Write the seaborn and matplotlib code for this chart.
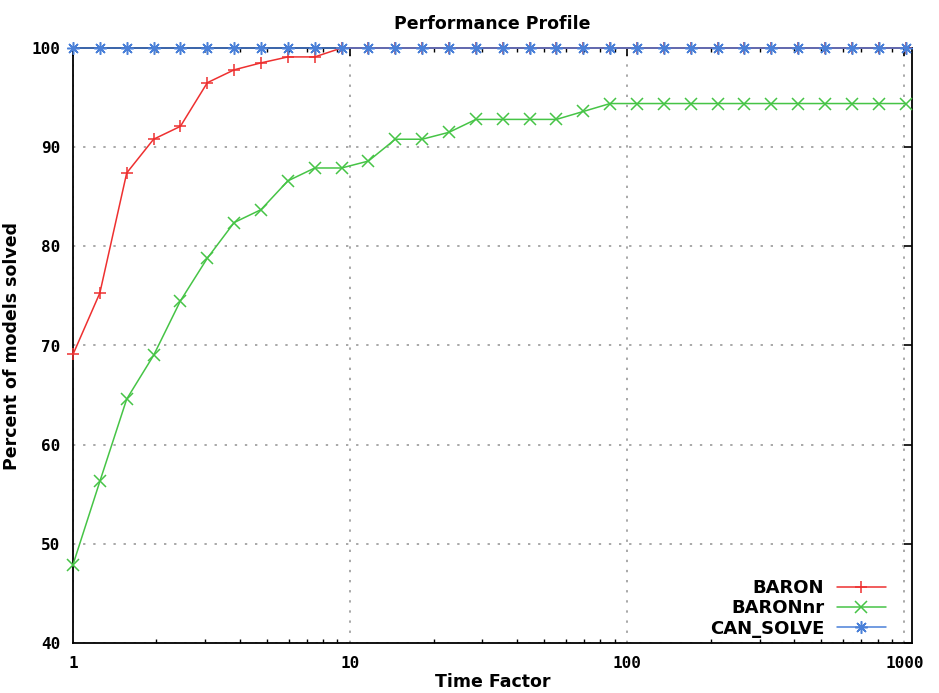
import numpy as np
import pandas as pd
import seaborn as sns
import matplotlib
matplotlib.use("Agg")
import matplotlib.pyplot as plt
from matplotlib.ticker import LogLocator, FixedLocator, NullFormatter

# Time factors: geometric steps of 1.25 from 1 up to ~1000
time_factor = [1.0, 1.25, 1.5625, 1.953, 2.441, 3.052, 3.815, 4.768, 5.960, 7.451,
               9.313, 11.64, 14.55, 18.19, 22.74, 28.42, 35.53, 44.41, 55.51, 69.39,
               86.74, 108.4, 135.5, 169.4, 211.8, 264.7, 330.9, 413.6, 517.0, 646.2,
               807.8, 1009.7]

baron = [69.1, 75.3, 87.4, 90.8, 92.1, 96.5, 97.8, 98.5, 99.1, 99.1,
         100, 100, 100, 100, 100, 100, 100, 100, 100, 100,
         100, 100, 100, 100, 100, 100, 100, 100, 100, 100,
         100, 100]

baron_nr = [47.9, 56.3, 64.6, 69.0, 74.5, 78.8, 82.4, 83.7, 86.6, 87.9,
            87.9, 88.6, 90.8, 90.8, 91.5, 92.8, 92.8, 92.8, 92.8, 93.6,
            94.4, 94.4, 94.4, 94.4, 94.4, 94.4, 94.4, 94.4, 94.4, 94.4,
            94.4, 94.4]

can_solve = [100] * 32

solvers = ["BARON", "BARONnr", "CAN_SOLVE"]
colors = {"BARON": "#ee3030", "BARONnr": "#46c446", "CAN_SOLVE": "#4a80d8"}
markers = {"BARON": "+", "BARONnr": "x", "CAN_SOLVE": (8, 2, 0)}

df = pd.DataFrame({
    "Time Factor": time_factor * 3,
    "Percent": baron + baron_nr + can_solve,
    "Solver": ["BARON"] * 32 + ["BARONnr"] * 32 + ["CAN_SOLVE"] * 32,
})

sns.set_theme(style="white")
plt.rcParams["font.family"] = ["DejaVu Sans"]
plt.rcParams["text.color"] = "black"
plt.rcParams["axes.labelcolor"] = "black"
plt.rcParams["xtick.color"] = "black"
plt.rcParams["ytick.color"] = "black"

fig = plt.figure(figsize=(9.39, 6.93), dpi=100)
ax = fig.add_axes([73 / 939, 50 / 693, (912 - 73) / 939, (643 - 48) / 693])

sns.lineplot(data=df, x="Time Factor", y="Percent", hue="Solver", style="Solver",
             hue_order=solvers, style_order=solvers, palette=colors,
             markers=markers, dashes=False, markersize=9, markeredgewidth=1.1,
             linewidth=1.1, ax=ax, clip_on=False, zorder=3)

for ln in ax.lines:
    ln.set_markeredgecolor(ln.get_color())
    ln.set_markerfacecolor(ln.get_color())

ax.set_xscale("log")
ax.set_xlim(1, 1065)
ax.set_ylim(40, 100)

mono = dict(family="DejaVu Sans Mono", weight="bold", size=11.5)
ax.xaxis.set_major_locator(FixedLocator([1, 10, 100, 1000]))
ax.set_xticklabels(["1", "10", "100", "1000"], **mono)
ax.xaxis.set_minor_locator(LogLocator(base=10, subs=np.arange(2, 10)))
ax.xaxis.set_minor_formatter(NullFormatter())
ax.set_yticks([40, 50, 60, 70, 80, 90, 100])
ax.set_yticklabels([str(v) for v in [40, 50, 60, 70, 80, 90, 100]], **mono)

ax.tick_params(axis="both", which="major", direction="in", length=6, width=1.2,
               top=True, right=True, color="black", pad=9)
ax.tick_params(axis="x", which="minor", direction="in", length=3, width=1.0,
               top=True, bottom=True, color="black")

ax.grid(True, which="major", linestyle=(0, (1.2, 4)), color="#a8a8a8", linewidth=1.4)
for sp in ax.spines.values():
    sp.set_color("black")
    sp.set_linewidth(1.3)

ax.set_xlabel("Time Factor", fontsize=12.5, fontweight="bold", labelpad=2)
ax.set_ylabel("Percent of models solved", fontsize=12.5, fontweight="bold", labelpad=8)
ax.set_title("Performance Profile", fontsize=12.5, fontweight="bold", pad=14)

leg = ax.legend(loc="lower right", markerfirst=False, frameon=False,
                prop=dict(weight="bold", size=13), handlelength=2.75,
                handletextpad=0.7, labelspacing=0.12, borderaxespad=0.0,
                bbox_to_anchor=(0.978, -0.003))
for ln in leg.get_lines():
    ln.set_markeredgecolor(ln.get_color())
    ln.set_markerfacecolor(ln.get_color())

fig.savefig("out.png", dpi=100)
